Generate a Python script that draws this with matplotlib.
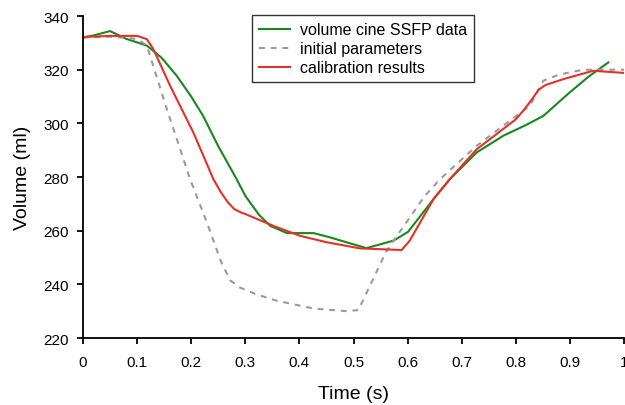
import matplotlib
matplotlib.use("Agg")
import matplotlib.pyplot as plt

plt.rcParams['font.family'] = ['Liberation Sans', 'DejaVu Sans']

# volume cine SSFP data
t_data = [0, 0.02, 0.05, 0.08, 0.118, 0.145, 0.173, 0.2, 0.222, 0.25, 0.284, 0.30, 0.325, 0.346,
          0.377, 0.426, 0.457, 0.49, 0.524, 0.574, 0.601, 0.648, 0.678, 0.728, 0.777, 0.82, 0.851,
          0.9, 0.935, 0.971]
v_data = [332, 332.8, 334.4, 331.5, 329, 324.5, 317.8, 310, 302.8, 291.5, 279.2, 273, 266, 261.8,
          259.1, 259.1, 257.5, 255.5, 253.5, 256.3, 259.6, 271.8, 279.2, 289.2, 295.4, 299.5, 302.8,
          311.6, 317.5, 322.7]

# initial parameters
t_init = [0, 0.05, 0.1, 0.118, 0.155, 0.198, 0.229, 0.255, 0.272, 0.29, 0.32, 0.358, 0.426, 0.487,
          0.509, 0.561, 0.632, 0.66, 0.728, 0.826, 0.851, 0.88, 0.925, 1.0]
v_init = [332, 332.3, 331.5, 329, 305.3, 279.2, 263.1, 248.5, 241.5, 238.8, 236.3, 233.9, 231.0, 230.0,
          230.4, 252.5, 273, 279.2, 291.7, 306.6, 315.9, 318.2, 320, 320]

# calibration results
t_cal = [0, 0.05, 0.1, 0.118, 0.13, 0.161, 0.204, 0.241, 0.255, 0.268, 0.28, 0.292, 0.30, 0.352,
         0.401, 0.45, 0.512, 0.589, 0.604, 0.648, 0.678, 0.728, 0.80, 0.815, 0.83, 0.842, 0.855, 0.888,
         0.943, 1.0]
v_cal = [332.2, 332.6, 332.6, 331.4, 327.7, 314, 296.6, 279.2, 274.3, 270.5, 268, 266.8, 266.2, 261.8,
         258.1, 255.7, 253.4, 252.8, 256.3, 271.8, 279.2, 290.4, 301.5, 305, 309, 312.5, 314.3, 316.5,
         319.6, 318.8]

x_ticks = [0, 0.1, 0.2, 0.3, 0.4, 0.5, 0.6, 0.7, 0.8, 0.9, 1]
x_labels = ['0', '0.1', '0.2', '0.3', '0.4', '0.5', '0.6', '0.7', '0.8', '0.9', '1']
y_ticks = [220, 240, 260, 280, 300, 320, 340]

fig = plt.figure(figsize=(6.25, 4.06), dpi=100)
ax = fig.add_axes([0.1328, 0.165, 0.8656, 0.793])

ax.plot(t_data, v_data, color='#17891c', lw=1.5, label='volume cine SSFP data')
ax.plot(t_init, v_init, color='#9a9a9a', lw=1.5, ls=(0, (2.8, 2.8)), label='initial parameters')
ax.plot(t_cal, v_cal, color='#e3312a', lw=1.5, label='calibration results')

ax.set_xlim(0, 1)
ax.set_ylim(220, 340)
ax.set_xticks(x_ticks)
ax.set_xticklabels(x_labels)
ax.set_yticks(y_ticks)
ax.spines['top'].set_visible(False)
ax.spines['right'].set_visible(False)
for s in ['left', 'bottom']:
    ax.spines[s].set_linewidth(1.3)
ax.tick_params(axis='both', labelsize=11, width=1.3, length=4, direction='out')
ax.tick_params(axis='x', pad=8)
ax.tick_params(axis='y', pad=6)
ax.set_xlabel('Time (s)', fontsize=14, labelpad=12)
ax.set_ylabel('Volume (ml)', fontsize=14, labelpad=9)

leg = ax.legend(loc='upper left', bbox_to_anchor=(0.312, 1.003), borderaxespad=0, fontsize=11.5,
                frameon=True, fancybox=False, edgecolor='black', handlelength=1.95, borderpad=0.45,
                labelspacing=0.25, handletextpad=0.6)
leg.get_frame().set_linewidth(1.0)

fig.savefig('out.png', dpi=100)
